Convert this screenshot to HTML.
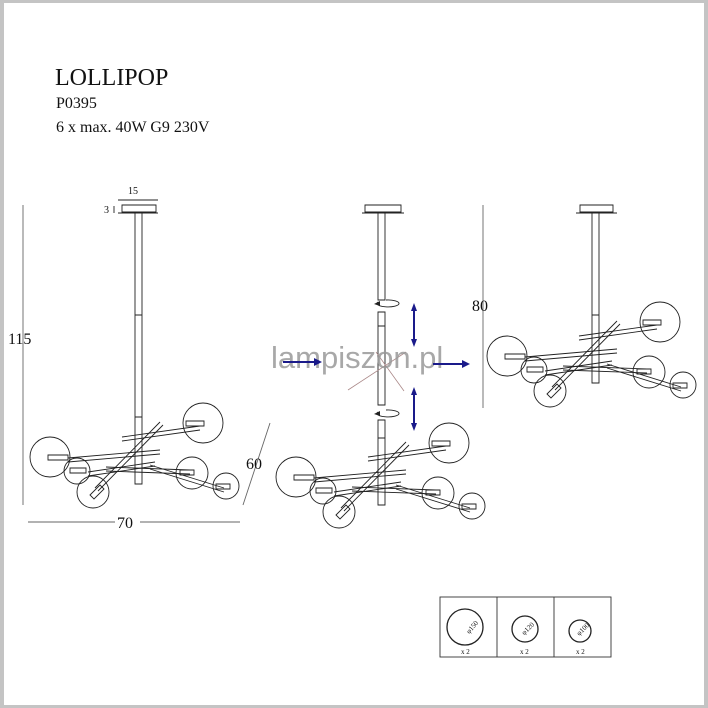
<!DOCTYPE html>
<html><head><meta charset="utf-8"><style>
html,body{margin:0;padding:0;background:#fff}
svg{display:block}
text{font-family:"Liberation Serif",serif;fill:#111}
</style></head><body>
<svg width="708" height="708" viewBox="0 0 708 708" xmlns="http://www.w3.org/2000/svg">
<rect x="0" y="0" width="708" height="708" fill="#c4c4c4"/>
<rect x="4" y="3" width="700" height="702" fill="#fff"/>
<defs>
<g id="ch" fill="none" stroke="#222" stroke-width="0.9">
  <path d="M122,437 L200,426 M122,441 L200,430"/>
  <path d="M68,458 L160,450 M68,462 L160,454"/>
  <path d="M88,472 L155,462 M88,476 L155,466"/>
  <path d="M106,467 L190,470 M106,471 L190,474"/>
  <path d="M150,465 L224,488 M150,469 L224,492"/>
  <path d="M95,488 L160,422 M98,491 L163,425"/>
  <circle cx="50" cy="457" r="20"/>
  <circle cx="77" cy="471" r="13"/>
  <circle cx="93" cy="492" r="16"/>
  <circle cx="203" cy="423" r="20"/>
  <circle cx="192" cy="473" r="16"/>
  <circle cx="226" cy="486" r="13"/>
  <path d="M48,455 h20 v5 h-20z M70,468 h16 v5 h-16z M186,421 h18 v5 h-18z M180,470 h14 v5 h-14z M216,484 h14 v5 h-14z"/>
  <path d="M90,495 l10,-10 l4,4 l-10,10z"/>
</g>
</defs>

<text x="55" y="85" font-size="24">LOLLIPOP</text>
<text x="56" y="108" font-size="16">P0395</text>
<text x="56" y="132" font-size="16">6 x max. 40W G9  230V</text>

<g fill="none" stroke="#222" stroke-width="0.9">
<path d="M122,205 h34 v7 h-34z M118,213 h40"/>
<path d="M135,213 V484 H142 V213 M135,315 h7 M135,417 h7"/>
<path d="M118,200 h40 M114,206 v7"/>
<path d="M23,205 V505" stroke="#666"/>
<path d="M28,522 H115 M140,522 H240" stroke="#666"/>
<path d="M243,505 L270,423" stroke="#666"/>
<path d="M365,205 h36 v7 h-36z M362,213 h42"/>
<path d="M378,213 V300 H385 V213 M378,312 h7 v14 h-7z M378,326 V405 H385 V326 M378,420 h7 v18 h-7z M378,438 V505 H385 V438"/>
<path d="M378,302 a11,3.5 0 1,0 8,-2" />
<path d="M378,412 a11,3.5 0 1,0 8,-2" />
<path d="M580,205 h33 v7 h-33z M576,213 h41"/>
<path d="M592,213 V383 H599 V213 M592,315 h7"/>
<path d="M483,205 V408" stroke="#666"/>
<rect x="440" y="597" width="171" height="60" stroke="#333"/>
<path d="M497,597 V657 M554,597 V657" stroke="#333"/>
<circle cx="465" cy="627" r="18" stroke-width="1.3"/>
<circle cx="525" cy="629" r="13" stroke-width="1.3"/>
<circle cx="580" cy="631" r="11" stroke-width="1.3"/>
</g>
<path d="M374,304 l6,-3 v5z M374,414 l6,-3 v5z" fill="#222"/>
<use href="#ch" transform="translate(246,20)"/>
<use href="#ch" transform="translate(457,-101)"/>
<use href="#ch"/>

<path d="M348,390 L406,352 M376,352 L404,391" stroke="#a88" stroke-width="0.8"/>
<text x="271" y="368" font-size="31" style="font-family:'Liberation Sans',sans-serif;fill:#999;opacity:0.85">lampiszon.pl</text>
<g stroke="#1a1a8a" stroke-width="2" fill="#1a1a8a">
<path d="M283,362 H316"/><path d="M322,362 l-8,-4 v8z" stroke="none"/>
<path d="M433,364 H464"/><path d="M470,364 l-8,-4 v8z" stroke="none"/>
<path d="M414,310 V340"/><path d="M414,303 l-3,8 h6z M414,347 l-3,-8 h6z" stroke="none"/>
<path d="M414,394 V424"/><path d="M414,387 l-3,8 h6z M414,431 l-3,-8 h6z" stroke="none"/>
</g>

<text x="128" y="194" font-size="10">15</text>
<text x="104" y="213" font-size="10">3</text>
<text x="8" y="344" font-size="16">115</text>
<text x="117" y="528" font-size="16">70</text>
<text x="246" y="469" font-size="16">60</text>
<text x="472" y="311" font-size="16">80</text>
<g font-size="7" style="font-family:'Liberation Sans',sans-serif">
<text x="464" y="631" transform="rotate(-50 470 627)">φ150</text>
<text x="520" y="633" transform="rotate(-45 525 629)">φ120</text>
<text x="576" y="634" transform="rotate(-45 580 631)">φ100</text>
<text x="461" y="654">x 2</text>
<text x="520" y="654">x 2</text>
<text x="576" y="654">x 2</text>
</g>
</svg>
</body></html>
